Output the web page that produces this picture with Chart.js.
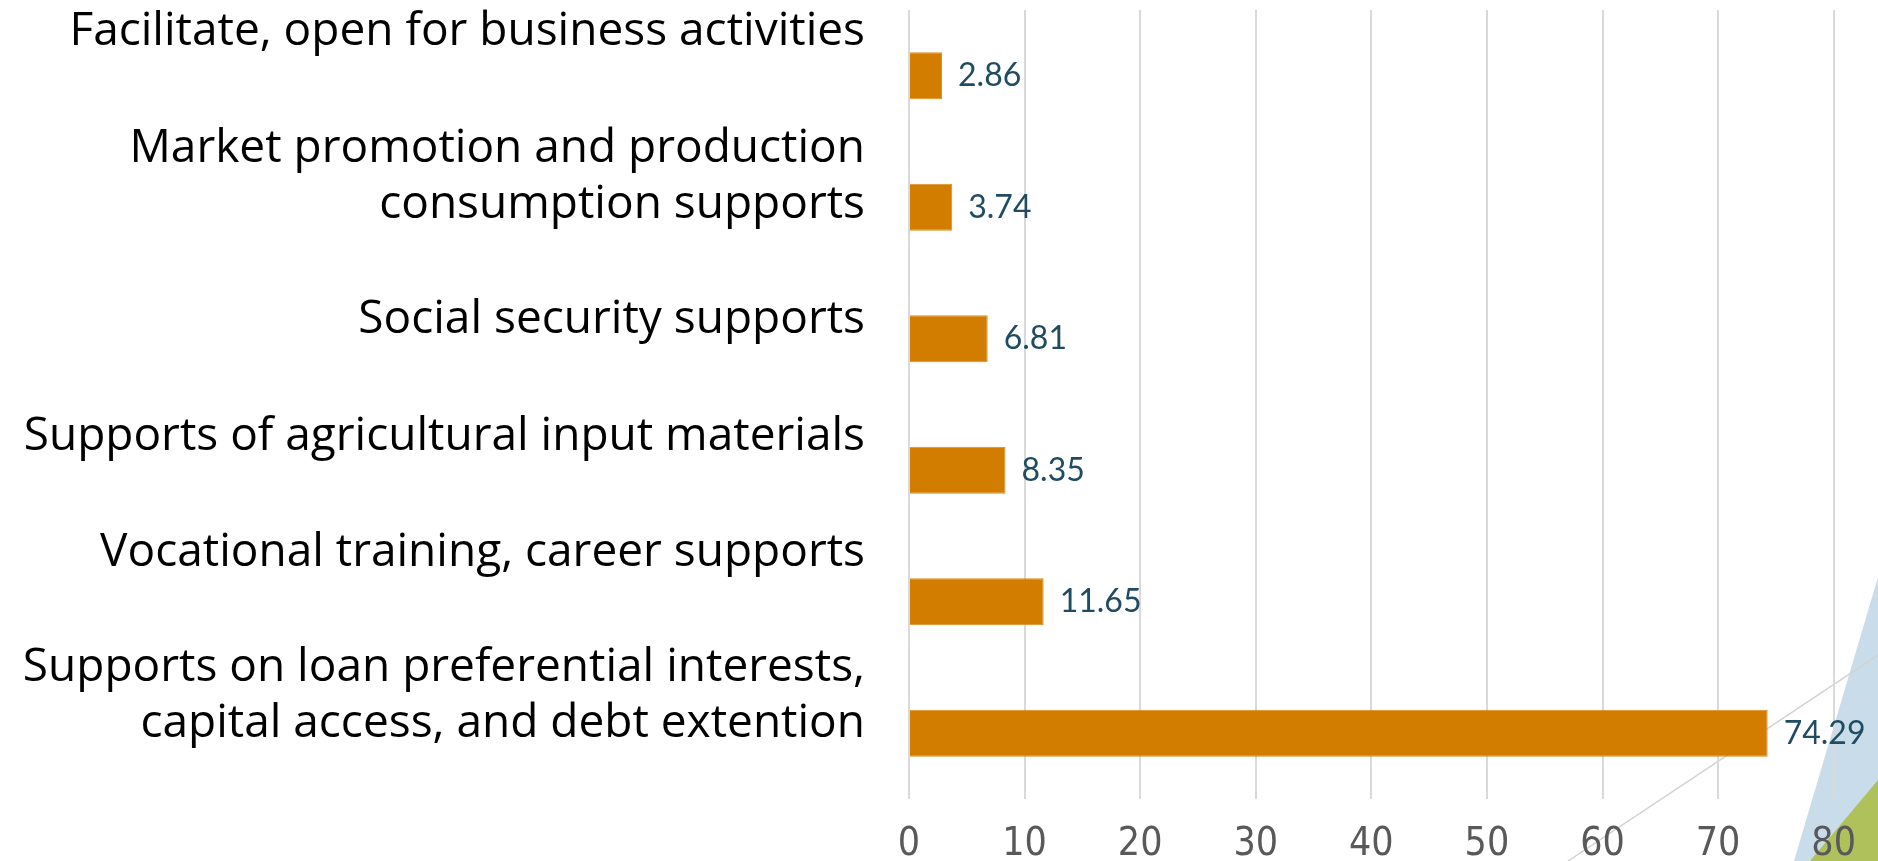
<!DOCTYPE html>
<html>
<head>
<meta charset="utf-8">
<title>Support measures</title>
<script src="https://cdn.jsdelivr.net/npm/chart.js@4/dist/chart.umd.min.js"></script>
<style>
  html, body { margin: 0; padding: 0; background: #ffffff; }
  #wrap { width: 1878px; height: 861px; position: relative; overflow: hidden; }
</style>
</head>
<body>
<div id="wrap"><canvas id="myChart" width="1878" height="861"></canvas></div>
<script>
// categories, one entry per bar (multi-line labels are arrays)
const categories = [
    ["Facilitate, open for business activities"],
    ["Market promotion and production", "consumption supports"],
    ["Social security supports"],
    ["Supports of agricultural input materials"],
    ["Vocational training, career supports"],
    ["Supports on loan preferential interests,", "capital access, and debt extention"]
];
// share of respondents per support measure (%)
const shares = [2.86, 3.74, 6.81, 8.35, 11.65, 74.29];
// x axis ticks
const xTicks = [0, 10, 20, 30, 40, 50, 60, 70, 80];

// label text sits a little off the bar centre, per row (px, last line baseline)
const labelNudge = [-31, 11, -6, -20, -36, 4];

const BAR_COLOR = '#D37D00';
const VALUE_COLOR = '#1F4B63';

// corner decoration behind everything
const cornerArt = {
    id: 'cornerArt',
    beforeDraw(chart) {
        const c = chart.ctx;
        const w = chart.width, h = chart.height;
        c.save();
        c.fillStyle = '#ffffff';
        c.fillRect(0, 0, w, h);
        // pale blue wedge
        c.fillStyle = '#C8DDE9';
        c.beginPath();
        c.moveTo(w - 84, h);
        c.lineTo(w, h - 284);
        c.lineTo(w, h);
        c.closePath();
        c.fill();
        // green wedge
        c.fillStyle = '#AEC15B';
        c.beginPath();
        c.moveTo(w - 68, h);
        c.lineTo(w, h - 81);
        c.lineTo(w, h);
        c.closePath();
        c.fill();
        // thin grey diagonal
        c.strokeStyle = '#D2D2D2';
        c.lineWidth = 1.5;
        c.beginPath();
        c.moveTo(w - 310, h);
        c.lineTo(w, h - 206);
        c.stroke();
        c.restore();
    }
};

// category labels to the left of the plot
const rowLabels = {
    id: 'rowLabels',
    afterDraw(chart) {
        const c = chart.ctx;
        const yScale = chart.scales.y;
        const right = chart.chartArea.left - 44;
        c.save();
        c.font = '46px "Open Sans"';
        c.fillStyle = '#000000';
        c.textAlign = 'right';
        c.textBaseline = 'alphabetic';
        categories.forEach((lines, i) => {
            const base = yScale.getPixelForValue(i) + labelNudge[i];
            lines.forEach((line, j) => {
                c.fillText(line, right, base - (lines.length - 1 - j) * 56);
            });
        });
        c.restore();
    }
};

// value printed after each bar
const valueLabels = {
    id: 'valueLabels',
    afterDatasetsDraw(chart) {
        const c = chart.ctx;
        const meta = chart.getDatasetMeta(0);
        c.save();
        c.font = '32px Lato';
        c.fillStyle = VALUE_COLOR;
        c.textAlign = 'left';
        c.textBaseline = 'middle';
        meta.data.forEach((bar, i) => {
            c.fillText(shares[i].toFixed(2), bar.x + 16, bar.y);
        });
        c.restore();
    }
};

const ctx = document.getElementById('myChart').getContext('2d');
const chart = new Chart(ctx, {
    type: 'bar',
    data: {
        labels: categories,
        datasets: [{
            data: shares,
            backgroundColor: BAR_COLOR,
            borderColor: '#DC8C1E',
            borderWidth: 1,
            barPercentage: 0.358,
            categoryPercentage: 1.0
        }]
    },
    options: {
        indexAxis: 'y',
        responsive: false,
        animation: false,
        devicePixelRatio: 1,
        layout: { padding: { top: 10, right: 33, bottom: 0, left: 0 } },
        plugins: {
            legend: { display: false },
            tooltip: { enabled: false }
        },
        scales: {
            x: {
                min: xTicks[0],
                max: xTicks[xTicks.length - 1],
                afterBuildTicks: (scale) => {
                    scale.ticks = xTicks.map(v => ({ value: v }));
                },
                afterFit: (scale) => { scale.height = 62; },
                grid: {
                    color: '#D9D9D9',
                    lineWidth: 2,
                    drawTicks: false
                },
                border: { display: false },
                ticks: {
                    color: '#595959',
                    font: { family: '"DejaVu Sans Condensed", Roboto, sans-serif', size: 39 },
                    padding: 22
                }
            },
            y: {
                afterFit: (scale) => { scale.width = 909; },
                grid: { display: false },
                border: { display: false },
                ticks: { display: false }
            }
        }
    },
    plugins: [cornerArt, rowLabels, valueLabels]
});
</script>
</body>
</html>
